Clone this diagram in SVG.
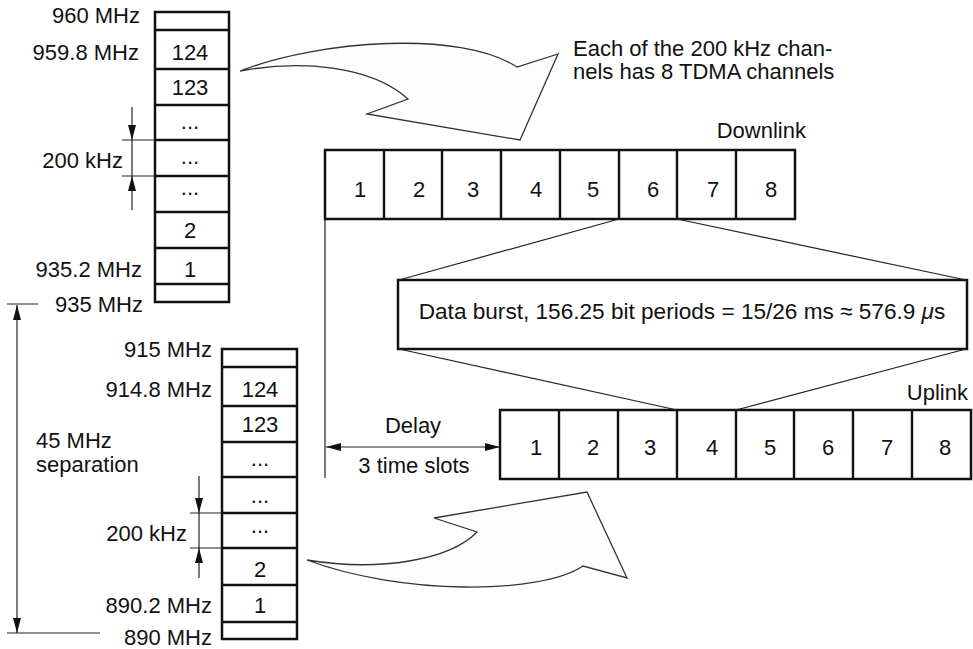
<svg xmlns="http://www.w3.org/2000/svg" width="973" height="649" viewBox="0 0 973 649">
<style>
text{font-family:"Liberation Sans",Arial,sans-serif;font-size:22px;fill:#111}
.e{text-anchor:end}
.m{text-anchor:middle}
.box{fill:#fff;stroke:#111;stroke-width:2.5}
.div{stroke:#111;stroke-width:2.4}
.thin{stroke:#222;stroke-width:1.2;fill:none}
.big{fill:#fdfdfd;stroke:#333;stroke-width:1.3;stroke-linejoin:miter}
</style>
<defs>
<marker id="ah" viewBox="0 0 15 8" refX="15" refY="4" markerWidth="15" markerHeight="8" markerUnits="userSpaceOnUse" orient="auto-start-reverse">
<path d="M0,0 L15,4 L0,8 Z" fill="#111"/>
</marker>
</defs>

<!-- Downlink frequency column -->
<g id="column-downlink">
<rect class="box" x="155" y="12" width="74" height="290"/>
<path class="div" d="M155,30H229M155,69H229M155,105H229M155,140H229M155,176H229M155,212H229M155,248H229M155,284H229"/>
<text class="m" x="190" y="60">124</text>
<text class="m" x="190" y="95">123</text>
<text class="m" x="190" y="129">...</text>
<text class="m" x="190" y="164">...</text>
<text class="m" x="190" y="195">...</text>
<text class="m" x="190" y="238">2</text>
<text class="m" x="190" y="277">1</text>
<text class="e" x="140" y="23">960 MHz</text>
<text class="e" x="139" y="60">959.8 MHz</text>
<text class="e" x="142" y="277">935.2 MHz</text>
<text class="e" x="143" y="312">935 MHz</text>
<text class="e" x="123" y="168">200 kHz</text>
</g>

<!-- Uplink frequency column -->
<g id="column-uplink">
<rect class="box" x="222" y="349" width="75" height="290"/>
<path class="div" d="M222,367H297M222,406H297M222,442H297M222,477H297M222,513H297M222,548H297M222,585H297M222,622H297"/>
<text class="m" x="260" y="397">124</text>
<text class="m" x="260" y="432">123</text>
<text class="m" x="260" y="466">...</text>
<text class="m" x="260" y="503">...</text>
<text class="m" x="260" y="533">...</text>
<text class="m" x="260" y="577">2</text>
<text class="m" x="260" y="613">1</text>
<text class="e" x="212" y="357">915 MHz</text>
<text class="e" x="212" y="397">914.8 MHz</text>
<text class="e" x="212" y="613">890.2 MHz</text>
<text class="e" x="212" y="645">890 MHz</text>
<text class="e" x="187" y="541">200 kHz</text>
<text x="36" y="448">45 MHz</text>
<text x="36" y="472">separation</text>
</g>

<!-- Big curved arrows -->
<g id="arrow-top">
<path class="big" d="M240,71 C320,40 460,30 517,67 L558,54 L520,140 L367,114 L408,99 C370,65 300,60 240,71 Z"/>
</g>
<g id="arrow-bottom">
<path class="big" d="M307,560 C380,572 450,560 477,532 L434,518 L587,492 L627,578 L583,566 C540,595 400,595 307,560 Z"/>
</g>

<g id="note">
<text x="573" y="56">Each of the 200 kHz chan-</text>
<text x="573" y="79">nels has 8 TDMA channels</text>
</g>

<!-- Downlink frame -->
<g id="downlink">
<text class="e" x="806" y="138">Downlink</text>
<rect class="box" x="325" y="150" width="470" height="69"/>
<path class="div" d="M384,150V219M442,150V219M501,150V219M560,150V219M619,150V219M677,150V219M736,150V219"/>
<text class="m" x="360" y="197">1</text>
<text class="m" x="419" y="197">2</text>
<text class="m" x="473" y="197">3</text>
<text class="m" x="536" y="197">4</text>
<text class="m" x="593" y="197">5</text>
<text class="m" x="653" y="197">6</text>
<text class="m" x="713" y="197">7</text>
<text class="m" x="771" y="197">8</text>
</g>

<!-- Data burst -->
<g id="data-burst">
<rect class="box" x="398" y="280" width="569" height="69"/>
<text class="m" x="682" y="319" style="font-size:22.6px">Data burst, 156.25 bit periods = 15/26 ms ≈ 576.9 <tspan font-style="italic">μ</tspan>s</text>
</g>

<!-- Uplink frame -->
<g id="uplink">
<text class="e" x="968" y="400">Uplink</text>
<rect class="box" x="500" y="410" width="471" height="69"/>
<path class="div" d="M559,410V479M618,410V479M677,410V479M736,410V479M794,410V479M853,410V479M912,410V479"/>
<text class="m" x="536" y="455">1</text>
<text class="m" x="593" y="455">2</text>
<text class="m" x="650" y="455">3</text>
<text class="m" x="712" y="455">4</text>
<text class="m" x="770" y="455">5</text>
<text class="m" x="828" y="455">6</text>
<text class="m" x="887" y="455">7</text>
<text class="m" x="945" y="455">8</text>
</g>

<g id="delay-label">
<text class="m" x="413" y="433">Delay</text>
<text class="m" x="414" y="473">3 time slots</text>
</g>

<!-- Connectors and dimension lines -->
<g id="connectors">
<path class="thin" d="M619,219 L399,280"/>
<path class="thin" d="M677,219 L966,280"/>
<path class="thin" d="M399,349 L677,410"/>
<path class="thin" d="M966,349 L736,410"/>
<path class="thin" d="M325,219 V478"/>
<path class="thin" d="M326,447 H500" marker-start="url(#ah)" marker-end="url(#ah)"/>
<!-- 200 kHz top -->
<path class="thin" d="M122,140H155M122,176H155M132,140V176"/>
<path class="thin" d="M132,107V140" marker-end="url(#ah)"/>
<path class="thin" d="M132,210V176" marker-end="url(#ah)"/>
<!-- 200 kHz bottom -->
<path class="thin" d="M190,513H222M190,548H222M199,513V548"/>
<path class="thin" d="M199,476V513" marker-end="url(#ah)"/>
<path class="thin" d="M199,578V548" marker-end="url(#ah)"/>
<!-- 45 MHz separation -->
<path class="thin" d="M7,304H38M7,633H100"/>
<path class="thin" d="M17,305V633" marker-start="url(#ah)" marker-end="url(#ah)"/>
</g>
</svg>
